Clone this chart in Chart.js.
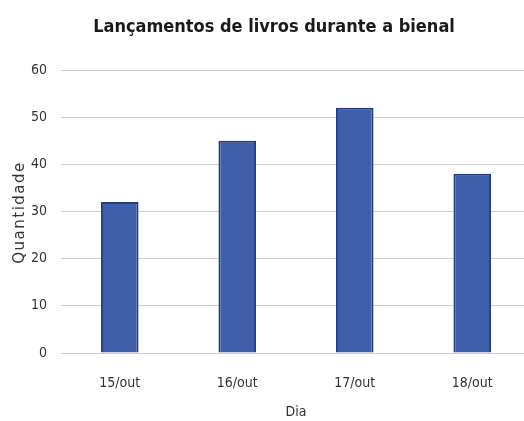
<!DOCTYPE html>
<html>
<head>
<meta charset="utf-8">
<script src="https://cdn.jsdelivr.net/npm/chart.js@4.4.0/dist/chart.umd.min.js"></script>
<style>
  html, body { margin: 0; padding: 0; background: #fff; overflow: hidden; }
  #wrap { width: 540px; height: 421px; position: relative; }
</style>
</head>
<body>
<div id="wrap"><canvas id="c"></canvas></div>
<script>
const chartTitle = "Lançamentos de livros durante a bienal";
const categories = ["15/out", "16/out", "17/out", "18/out"];
const quantities = [32, 45, 52, 38];
const yTitle = "Quantidade";
const xTitle = "Dia";
const yMin = 0, yMax = 60, yStep = 10;

const FONT = '"DejaVu Sans Condensed", "Liberation Sans", sans-serif';

const textPlugin = {
  id: 'customTexts',
  afterDraw(chart) {
    const ctx = chart.ctx;
    ctx.save();
    ctx.font = 'bold 18px ' + FONT;
    ctx.fillStyle = '#1a1a1a';
    ctx.textAlign = 'center';
    ctx.textBaseline = 'middle';
    ctx.fillText(chartTitle, 274, 27);
    ctx.restore();

    const area = chart.chartArea;
    ctx.save();
    ctx.font = '15px "DejaVu Sans", sans-serif';
    ctx.fillStyle = '#333';
    if ('letterSpacing' in ctx) ctx.letterSpacing = '1.5px';
    ctx.translate(20, (area.top + area.bottom) / 2 + 1);
    ctx.rotate(-Math.PI / 2);
    ctx.textAlign = 'center';
    ctx.textBaseline = 'middle';
    ctx.fillText(yTitle, 0, 0);
    ctx.restore();
  }
};

new Chart(document.getElementById('c'), {
  type: 'bar',
  data: {
    labels: categories,
    datasets: [{
      data: quantities,
      backgroundColor: '#3f5fab',
      borderColor: '#223c84',
      borderWidth: 2,
      barPercentage: 0.32,
      categoryPercentage: 1.0
    }]
  },
  options: {
    responsive: true,
    maintainAspectRatio: false,
    animation: false,
    layout: { padding: { top: 70, right: 9, left: 0, bottom: 0 } },
    plugins: {
      legend: { display: false },
      title: { display: false },
      tooltip: { enabled: false }
    },
    scales: {
      x: {
        grid: { display: false, drawTicks: false },
        border: { display: false },
        ticks: { color: '#333', font: { family: FONT, size: 14 }, padding: 22 },
        title: { display: true, text: xTitle, color: '#333', font: { family: FONT, size: 14 }, padding: { top: 6, bottom: 0 } },
        afterFit(s) { s.height = 421 - 353; }
      },
      y: {
        min: yMin, max: yMax,
        ticks: { stepSize: yStep, color: '#333', font: { family: FONT, size: 14 }, padding: 14 },
        grid: { color: '#cfcfcf', lineWidth: 1, drawTicks: false },
        border: { display: false },
        title: { display: false },
        afterFit(s) { s.width = 61; }
      }
    }
  },
  plugins: [textPlugin]
});
</script>
</body>
</html>
